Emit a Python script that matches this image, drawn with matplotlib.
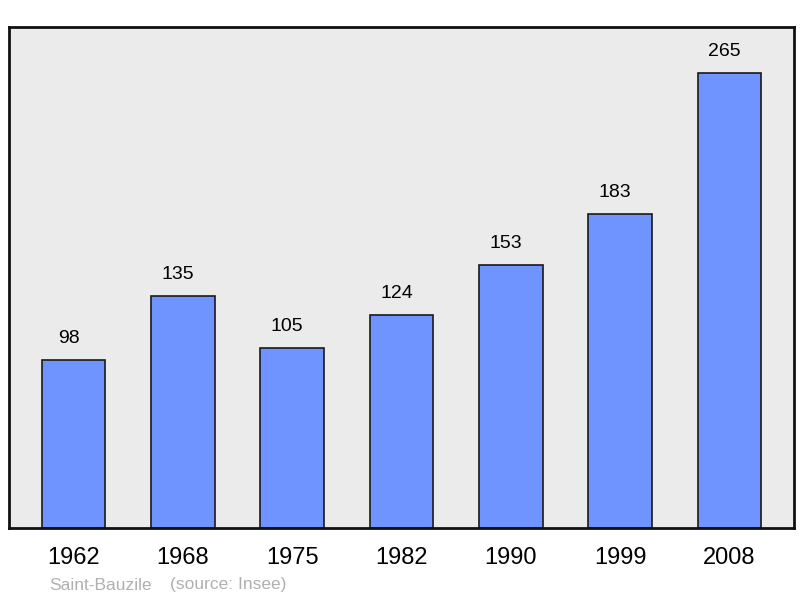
import matplotlib
matplotlib.use("Agg")
import matplotlib.pyplot as plt

years = ["1962", "1968", "1975", "1982", "1990", "1999", "2008"]
population = [98, 135, 105, 124, 153, 183, 265]
title_text = "Saint-Bauzile"
source_text = "(source: Insee)"

plt.rcParams['font.family'] = ['Liberation Sans', 'DejaVu Sans']

fig = plt.figure(figsize=(8, 5.98), dpi=100)
ax = fig.add_axes([9/800, 1 - 528/598, 785/800, 501/598])
ax.set_facecolor('#ebebeb')

x = list(range(len(years)))
ax.bar(x, population, width=0.58, color='#7094ff', edgecolor='#1a1a1a', linewidth=1.2, zorder=2)
for xi, v in zip(x, population):
    ax.annotate(str(v), (xi, v), xytext=(-3.6, 15.5), textcoords='offset points',
                ha='center', va='center', fontsize=14, color='black')

ax.set_xlim(-0.59, 6.59)
ax.set_ylim(0, 291.8)
ax.set_yticks([])
ax.set_xticks(x)
ax.set_xticklabels(years, fontsize=17)
ax.tick_params(axis='x', length=0, pad=14)
for s in ax.spines.values():
    s.set_linewidth(2)
    s.set_color('#111111')

fig.text(49/800, 1 - 585/598, title_text, fontsize=12.5, color='#b0b0b0', va='center', ha='left')
fig.text(170/800, 1 - 585/598, source_text, fontsize=12.5, color='#b0b0b0', va='center', ha='left')

fig.savefig('out.png', dpi=100)
